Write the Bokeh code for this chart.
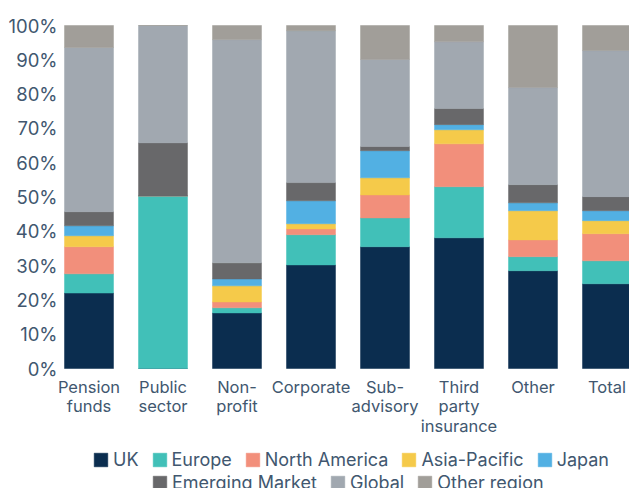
from bokeh.plotting import figure
from bokeh.models import (ColumnDataSource, Range1d, FixedTicker, Legend,
                          LegendItem)
from bokeh.core.properties import value
from bokeh.embed import file_html
from bokeh.resources import INLINE

categories = ["Pension\nfunds", "Public\nsector", "Non-\nprofit", "Corporate",
              "Sub-\nadvisory", "Third\nparty\ninsurance", "Other", "Total"]

series_names = ["UK", "Europe", "North America", "Asia-Pacific", "Japan",
                "Emerging Market", "Global", "Other region"]

uk = [22.0, 0.0, 16.2, 30.2, 35.5, 38.1, 28.5, 24.7]
europe = [5.6, 50.3, 1.5, 8.8, 8.4, 14.9, 4.1, 6.7]
north_america = [7.9, 0.0, 1.7, 1.7, 6.7, 12.5, 4.9, 7.9]
asia_pacific = [3.2, 0.0, 4.7, 1.5, 5.0, 4.1, 8.5, 3.8]
japan = [2.9, 0.0, 2.0, 6.7, 7.9, 1.5, 2.3, 2.9]
emerging_market = [4.1, 15.5, 4.7, 5.3, 1.2, 4.7, 5.3, 4.1]
global_region = [47.9, 34.2, 65.1, 44.3, 25.4, 19.5, 28.3, 42.6]
other_region = [6.4, 0.0, 4.1, 1.5, 9.9, 4.7, 18.1, 7.3]

y_ticks = [0, 10, 20, 30, 40, 50, 60, 70, 80, 90, 100]
y_tick_labels = ["0%", "10%", "20%", "30%", "40%", "50%", "60%", "70%", "80%", "90%", "100%"]

colors = ["#0b2d4f", "#41c0b8", "#f28f7b", "#f5ca4a", "#52b0e3",
          "#68686a", "#a1a8b0", "#a19e99"]

TEXT = "#41576f"
FONT = "Inter"

keys = ["uk", "europe", "north_america", "asia_pacific", "japan",
        "emerging_market", "global_region", "other_region"]
xs = list(range(len(categories)))
src = ColumnDataSource(dict(
    x=xs, uk=uk, europe=europe, north_america=north_america,
    asia_pacific=asia_pacific, japan=japan, emerging_market=emerging_market,
    global_region=global_region, other_region=other_region))

# frame: left edge at 55px, spans to the bottom/right of the canvas;
# 0% sits 120px above the bottom, 100% 25px below the top.
px_per_unit = 3.43
p = figure(width=629, height=488, output_backend="svg", toolbar_location=None,
           x_axis_location=None,
           x_range=Range1d(-33.5 / 74, 540.5 / 74),
           y_range=Range1d(-120 / px_per_unit, 100 + 25 / px_per_unit),
           min_border_left=55, min_border_right=0, min_border_top=0,
           min_border_bottom=0)
p.outline_line_color = None
p.xgrid.visible = False
p.ygrid.visible = False

rs = p.vbar_stack(keys, x="x", width=0.662, color=colors, line_width=0.5, source=src)

# y axis
yax = p.yaxis[0]
yax.axis_line_color = None
yax.major_tick_line_color = None
yax.minor_tick_line_color = None
yax.major_tick_out = 0
yax.major_tick_in = 0
yax.major_label_text_font = FONT
yax.major_label_text_color = TEXT
yax.major_label_text_font_size = "18.5px"
yax.ticker = FixedTicker(ticks=y_ticks)
yax.major_label_overrides = {t: l for t, l in zip(y_ticks, y_tick_labels)}
yax.major_label_standoff = -2

# category labels, one text per line, under each bar
lab_x, lab_line, lab_text = [], [], []
for x, c in zip(xs, categories):
    for k, t in enumerate(c.split("\n")):
        lab_x.append(x)
        lab_line.append(k)
        lab_text.append(t)
first_line_y = -18 / px_per_unit
line_step = 19.5 / px_per_unit
lab_y = [first_line_y - k * line_step for k in lab_line]
lab_src = ColumnDataSource(dict(x=lab_x, y=lab_y, text=lab_text))
p.text(x="x", y="y", text="text", source=lab_src, text_align="center",
       text_baseline="middle", text_font=value(FONT), text_font_size="16.5px",
       text_color=TEXT)


def make_legend(idx, loc):
    items = [LegendItem(label=series_names[i], renderers=[rs[i]]) for i in idx]
    return Legend(items=items, location=loc, orientation="horizontal",
                  glyph_width=17, glyph_height=17, label_standoff=4, spacing=12,
                  padding=0, margin=0, border_line_color=None,
                  background_fill_alpha=0, label_text_font=FONT,
                  label_text_font_size="18px", label_text_color=TEXT)


p.add_layout(make_legend([0, 1, 2, 3, 4], (37, 18)))
p.add_layout(make_legend([5, 6, 7], (96, -5)))

open("out.html", "w").write(file_html(p, INLINE))
